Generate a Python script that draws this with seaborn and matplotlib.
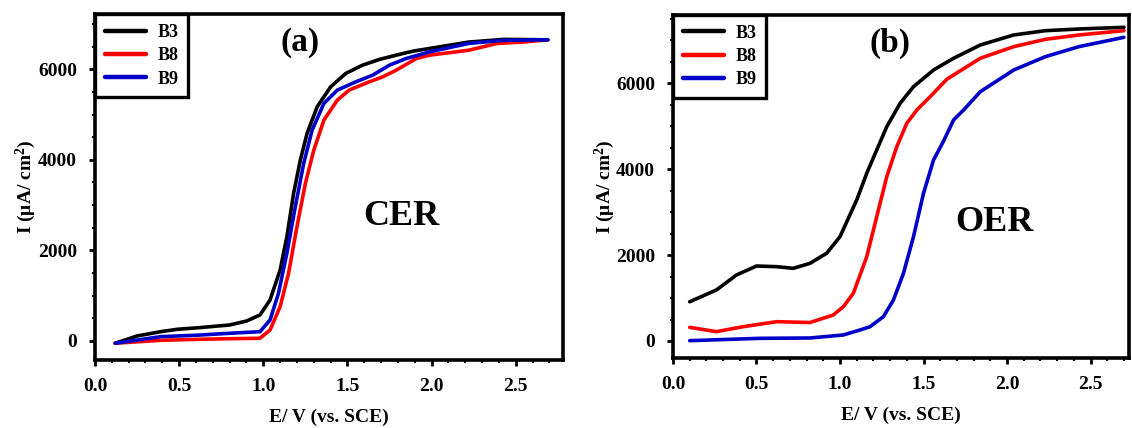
import matplotlib
matplotlib.use("Agg")
import matplotlib.pyplot as plt
import seaborn as sns
import pandas as pd
from matplotlib.ticker import AutoMinorLocator

sns.set_style("ticks")
plt.rcParams['font.family'] = ['Liberation Serif', 'DejaVu Serif']
plt.rcParams['font.weight'] = 'bold'
plt.rcParams['mathtext.fontset'] = 'custom'
plt.rcParams['mathtext.rm'] = 'Liberation Serif:bold'
plt.rcParams['mathtext.bf'] = 'Liberation Serif:bold'
plt.rcParams['mathtext.it'] = 'Liberation Serif:bold'
for key in ['text.color', 'axes.labelcolor', 'xtick.color', 'ytick.color', 'axes.edgecolor']:
    plt.rcParams[key] = 'black'

series = ["B3", "B8", "B9"]
colors = {"B3": "#000000", "B8": "#ff0000", "B9": "#0000c8"}

# Panel (a) CER
cer_b3_x = [0.12, 0.25, 0.39, 0.49, 0.62, 0.80, 0.90, 0.98, 1.04, 1.10, 1.14, 1.18, 1.22, 1.26, 1.32, 1.40, 1.49, 1.59, 1.69, 1.79, 1.89, 1.99, 2.22, 2.43, 2.69]
cer_b3_y = [-50, 110, 205, 258, 294, 353, 440, 574, 905, 1567, 2302, 3260, 3995, 4584, 5171, 5612, 5908, 6091, 6217, 6312, 6400, 6460, 6600, 6660, 6650]
cer_b8_x = [0.12, 0.39, 0.62, 0.80, 0.98, 1.04, 1.10, 1.15, 1.20, 1.25, 1.30, 1.36, 1.44, 1.51, 1.63, 1.71, 1.79, 1.91, 1.99, 2.22, 2.39, 2.54, 2.69]
cer_b8_y = [-50, 15, 37, 50, 60, 243, 757, 1494, 2523, 3480, 4215, 4877, 5319, 5540, 5723, 5833, 5981, 6239, 6312, 6420, 6570, 6600, 6650]
cer_b9_x = [0.12, 0.39, 0.62, 0.80, 0.98, 1.04, 1.09, 1.14, 1.19, 1.24, 1.29, 1.36, 1.44, 1.55, 1.65, 1.75, 1.85, 1.99, 2.22, 2.43, 2.69]
cer_b9_y = [-50, 95, 130, 170, 205, 463, 1052, 1935, 2964, 3921, 4657, 5246, 5540, 5723, 5870, 6091, 6239, 6385, 6570, 6640, 6650]

# Panel (b) OER
oer_b3_x = [0.10, 0.18, 0.26, 0.38, 0.50, 0.62, 0.72, 0.82, 0.92, 1.00, 1.10, 1.16, 1.22, 1.28, 1.36, 1.44, 1.56, 1.68, 1.84, 2.04, 2.23, 2.43, 2.70]
oer_b3_y = [913, 1050, 1186, 1535, 1744, 1729, 1690, 1806, 2040, 2426, 3280, 3900, 4443, 4985, 5529, 5915, 6303, 6576, 6885, 7118, 7218, 7257, 7296]
oer_b8_x = [0.10, 0.26, 0.42, 0.62, 0.82, 0.96, 1.02, 1.08, 1.16, 1.22, 1.28, 1.34, 1.40, 1.46, 1.54, 1.64, 1.84, 2.04, 2.23, 2.43, 2.70]
oer_b8_y = [318, 217, 333, 449, 430, 605, 798, 1110, 1960, 2891, 3822, 4520, 5064, 5373, 5683, 6090, 6576, 6846, 7017, 7118, 7218]
oer_b9_x = [0.10, 0.52, 0.82, 1.02, 1.12, 1.18, 1.26, 1.32, 1.38, 1.44, 1.50, 1.56, 1.62, 1.68, 1.74, 1.84, 2.04, 2.23, 2.43, 2.70]
oer_b9_y = [8, 62, 70, 140, 256, 333, 566, 954, 1575, 2426, 3435, 4210, 4650, 5141, 5373, 5799, 6303, 6614, 6846, 7063]

xticks = [0.0, 0.5, 1.0, 1.5, 2.0, 2.5]
yticks = [0, 2000, 4000, 6000]

def frame(xs, ys):
    rows = []
    for name, x, y in zip(series, xs, ys):
        for a, b in zip(x, y):
            rows.append({"E": a, "I": b, "sample": name})
    return pd.DataFrame(rows)

df_a = frame([cer_b3_x, cer_b8_x, cer_b9_x], [cer_b3_y, cer_b8_y, cer_b9_y])
df_b = frame([oer_b3_x, oer_b8_x, oer_b9_x], [oer_b3_y, oer_b8_y, oer_b9_y])

fig = plt.figure(figsize=(11.32, 4.28), dpi=100)
ax1 = fig.add_axes([0.0839, 0.1589, 0.4134, 0.8084])
ax2 = fig.add_axes([0.5945, 0.1636, 0.4028, 0.8021])

panels = [
    (ax1, df_a, (0, 2.78), (-420, 7220), "(a)", (0.438, 0.919), "CER", (0.654, 0.416)),
    (ax2, df_b, (0, 2.73), (-395, 7590), "(b)", (0.476, 0.917), "OER", (0.706, 0.395)),
]

for ax, df, xl, yl, tag, tagpos, name, namepos in panels:
    sns.lineplot(data=df, x="E", y="I", hue="sample", palette=colors,
                 hue_order=series, sort=False, estimator=None, lw=2.6, ax=ax)
    ax.set_xlim(*xl)
    ax.set_ylim(*yl)
    ax.set_xticks(xticks)
    ax.set_yticks(yticks)
    ax.xaxis.set_minor_locator(AutoMinorLocator(5))
    ax.yaxis.set_minor_locator(AutoMinorLocator(4))
    ax.tick_params(which='major', direction='out', length=4, width=2, labelsize=14, pad=9,
                   color='black', labelcolor='black')
    ax.tick_params(which='minor', direction='out', length=2, width=1.5, color='black')
    for lab in ax.get_xticklabels() + ax.get_yticklabels():
        lab.set_fontweight('bold')
    for sp in ax.spines.values():
        sp.set_visible(True)
        sp.set_linewidth(2.6)
        sp.set_color('black')
    ax.set_xlabel("E/ V (vs. SCE)", fontsize=14, fontweight='bold', labelpad=10, color='black')
    ax.set_ylabel(r"I (μA/ cm$^{2}$)", fontsize=14, fontweight='bold', color='black')
    ax.yaxis.set_label_coords(-0.122, 0.5)
    ax.text(tagpos[0], tagpos[1], tag, transform=ax.transAxes, ha='center', va='center',
            fontsize=24, fontweight='bold', color='black')
    ax.text(namepos[0], namepos[1], name, transform=ax.transAxes, ha='center', va='center',
            fontsize=26, fontweight='bold', color='black')
    leg = ax.legend(loc='upper left', borderaxespad=0.0, frameon=True, fancybox=False,
                    handlelength=2.3, handletextpad=0.6, borderpad=0.55, labelspacing=0.35,
                    prop={'weight': 'bold', 'size': 13})
    leg.get_frame().set_edgecolor('black')
    leg.get_frame().set_linewidth(2.4)
    leg.get_frame().set_alpha(1)
    for t in leg.get_texts():
        t.set_color('black')
    for h in leg.get_lines():
        h.set_linewidth(3.2)

fig.savefig("out.png", dpi=100)
